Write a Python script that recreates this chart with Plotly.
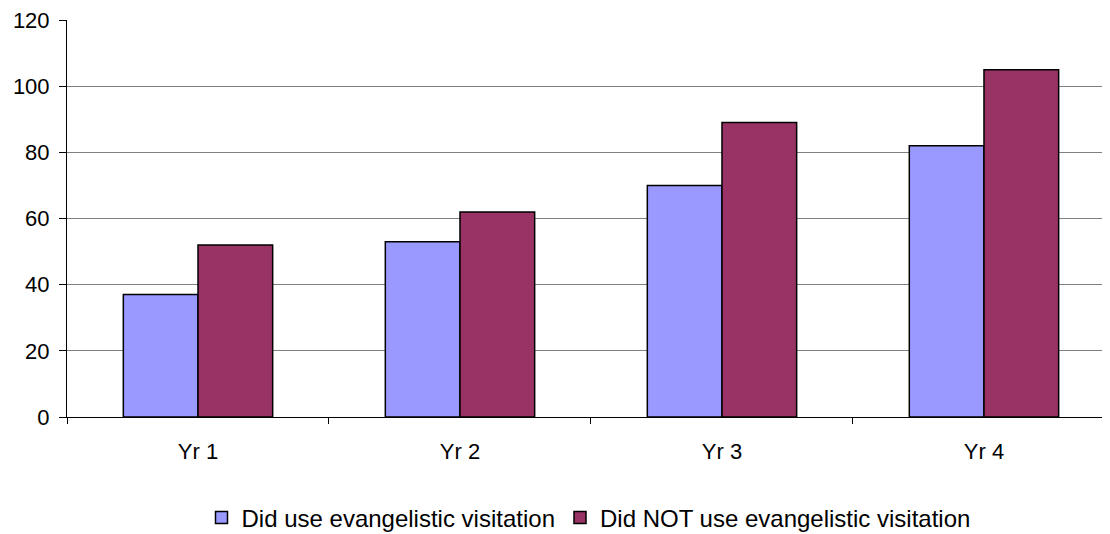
import plotly.graph_objects as go

categories = ["Yr 1", "Yr 2", "Yr 3", "Yr 4"]
did_use = [37, 53, 70, 82]
did_not_use = [52, 62, 89, 105]
series_names = ["Did use evangelistic visitation", "Did NOT use evangelistic visitation"]
y_ticks = [0, 20, 40, 60, 80, 100, 120]

fig = go.Figure()
fig.add_trace(go.Bar(x=categories, y=did_use, name=series_names[0],
                     marker=dict(color="#9999FF", line=dict(color="#000000", width=1.5))))
fig.add_trace(go.Bar(x=categories, y=did_not_use, name=series_names[1],
                     marker=dict(color="#993366", line=dict(color="#000000", width=1.5))))

fig.update_layout(
    width=1102, height=526,
    margin=dict(l=59, r=0, t=12, b=117, autoexpand=False),
    paper_bgcolor="white", plot_bgcolor="white",
    barmode="group", bargap=0.43, bargroupgap=0,
    font=dict(family="Liberation Sans, Arial, sans-serif", size=22, color="black"),
    showlegend=True,
    legend=dict(orientation="h", x=0.5, xanchor="center", y=-0.254, yanchor="middle",
                font=dict(family="Liberation Sans, Arial, sans-serif", size=24),
                itemwidth=30, tracegroupgap=0),
)
fig.update_xaxes(range=[-0.5, 3.481], showline=True, linecolor="black", linewidth=1,
                 ticks="outside", tickson="boundaries", ticklen=6, tickcolor="black",
                 ticklabelstandoff=15, showgrid=False, fixedrange=True)
fig.update_yaxes(range=[0, 120], tickvals=y_ticks, showline=True, linecolor="black", linewidth=1,
                 ticks="outside", ticklen=7, tickcolor="black", ticklabelstandoff=5,
                 ticklabeloverflow="allow",
                 showgrid=True, gridcolor="#808080", gridwidth=1, zeroline=False, fixedrange=True)

fig.write_html("out.html")
